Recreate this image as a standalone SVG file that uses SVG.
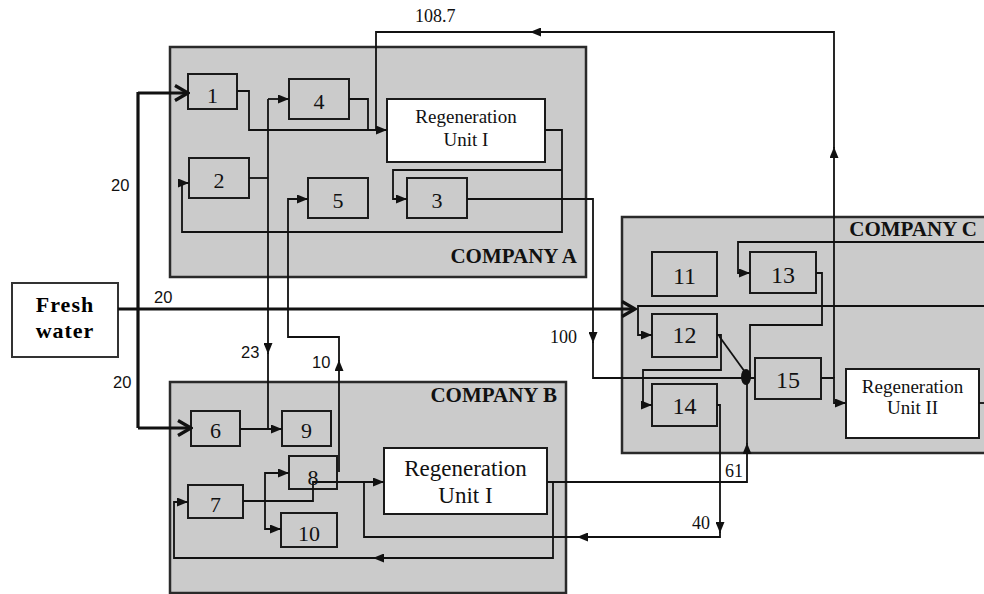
<svg xmlns="http://www.w3.org/2000/svg" width="984" height="594" viewBox="0 0 984 594">
<style>
.co{fill:#cbcbcb;stroke:#2a2a2a;stroke-width:2.5}
.nd{fill:#cbcbcb;stroke:#1a1a1a;stroke-width:2}
.rg{fill:#ffffff;stroke:#1a1a1a;stroke-width:2}
.num{font-family:"Liberation Serif",serif;font-size:22px;fill:#111;text-anchor:middle}
.numc{font-family:"Liberation Serif",serif;font-size:24px;fill:#111;text-anchor:middle}
.rt{font-family:"Liberation Serif",serif;fill:#111;text-anchor:middle}
.cl{font-family:"Liberation Serif",serif;font-weight:bold;font-size:21px;fill:#111;text-anchor:end}
.lbs{font-family:"Liberation Sans",sans-serif;font-size:16.5px;fill:#111}
.lbr{font-family:"Liberation Serif",serif;font-size:18px;fill:#111}
.c{fill:none;stroke:#111;stroke-width:1.8;marker-end:url(#a)}
.cn{fill:none;stroke:#111;stroke-width:1.8}
.t{fill:none;stroke:#111;stroke-width:3.2}
.to{fill:none;stroke:#111;stroke-width:3.2;marker-end:url(#o)}
</style>
<defs>
<marker id="a" markerUnits="userSpaceOnUse" markerWidth="11" markerHeight="9" refX="11" refY="4.5" orient="auto"><path d="M0,0 L11,4.5 L0,9 z" fill="#111"/></marker>
<marker id="o" markerUnits="userSpaceOnUse" markerWidth="16" markerHeight="18" refX="14" refY="9" orient="auto"><path d="M1,1.5 L14,9 L1,16.5" fill="none" stroke="#111" stroke-width="3.2"/></marker>
</defs>

<g id="companyA"><rect class="co" x="170" y="47" width="416" height="230"/><text class="cl" x="577" y="263">COMPANY A</text></g>
<g id="companyB"><rect class="co" x="170" y="382" width="396" height="211"/><text class="cl" x="557" y="402">COMPANY B</text></g>
<g id="companyC"><rect class="co" x="622" y="217" width="372" height="236"/><text class="cl" x="977" y="236">COMPANY C</text></g>

<g id="fresh"><rect x="12" y="283" width="106" height="74" fill="#fff" stroke="#333" stroke-width="2"/>
<text x="65" y="312" font-family="Liberation Serif,serif" font-weight="bold" font-size="22" text-anchor="middle" letter-spacing="1">Fresh</text>
<text x="65" y="338" font-family="Liberation Serif,serif" font-weight="bold" font-size="22" text-anchor="middle" letter-spacing="1">water</text></g>

<g id="n1"><rect class="nd" x="188" y="74" width="49" height="35"/><text class="num" x="212.5" y="103">1</text></g>
<g id="n2"><rect class="nd" x="189" y="158" width="60" height="40"/><text class="num" x="219" y="188">2</text></g>
<g id="n3"><rect class="nd" x="407" y="178" width="60" height="40"/><text class="num" x="437" y="208">3</text></g>
<g id="n4"><rect class="nd" x="289" y="79" width="60" height="40"/><text class="num" x="319" y="109">4</text></g>
<g id="n5"><rect class="nd" x="308" y="178" width="60" height="40"/><text class="num" x="338" y="208">5</text></g>
<g id="regA"><rect class="rg" x="387" y="99" width="158" height="63"/><text class="rt" font-size="19" x="466" y="123">Regeneration</text><text class="rt" font-size="19" x="466" y="146">Unit I</text></g>

<g id="n6"><rect class="nd" x="191" y="411" width="49" height="35"/><text class="num" x="215.5" y="438">6</text></g>
<g id="n9"><rect class="nd" x="282" y="411" width="49" height="35"/><text class="num" x="306.5" y="438">9</text></g>
<g id="n8"><rect class="nd" x="289" y="456" width="48" height="33"/><text class="num" x="313" y="485">8</text></g>
<g id="n7"><rect class="nd" x="188" y="485" width="55" height="33"/><text class="num" x="215.5" y="512">7</text></g>
<g id="n10"><rect class="nd" x="281" y="513" width="56" height="34"/><text class="num" x="309" y="541">10</text></g>
<g id="regB"><rect class="rg" x="384" y="448" width="163" height="66"/><text class="rt" font-size="23" x="465.5" y="476">Regeneration</text><text class="rt" font-size="23" x="465.5" y="503">Unit I</text></g>

<g id="n11"><rect class="nd" x="652" y="252" width="65" height="44"/><text class="numc" x="684.5" y="284">11</text></g>
<g id="n13"><rect class="nd" x="750" y="252" width="66" height="41"/><text class="numc" x="783" y="283">13</text></g>
<g id="n12"><rect class="nd" x="652" y="314" width="65" height="43"/><text class="numc" x="684.5" y="343">12</text></g>
<g id="n15"><rect class="nd" x="755" y="358" width="66" height="41"/><text class="numc" x="788" y="388">15</text></g>
<g id="n14"><rect class="nd" x="652" y="384" width="65" height="42"/><text class="numc" x="684.5" y="414">14</text></g>
<g id="regII"><rect class="rg" x="846" y="369" width="133" height="69"/><text class="rt" font-size="19" x="912.5" y="393">Regeneration</text><text class="rt" font-size="19" x="912.5" y="414">Unit II</text></g>

<g id="connectors">
<path class="to" d="M118,309 H635"/>
<path class="t" d="M138,309 V92"/>
<path class="to" d="M138,93 H188"/>
<path class="t" d="M138,309 V428"/>
<path class="to" d="M138,428 H191"/>

<path class="c" d="M237,91 H249 V130 H387"/>
<path class="cn" d="M349,99 H368 V130"/>
<path class="c" d="M834,378 V147"/>
<path class="c" d="M834,148 V32 H530"/>
<path class="cn" d="M531,32 H376 V130"/>
<path class="c" d="M821,378 H834 V403 H846"/>
<path class="cn" d="M979,403 H984"/>

<path class="cn" d="M249,178 H268"/>
<path class="c" d="M268,99 H289"/>
<path class="c" d="M268,99 V354"/>
<path class="cn" d="M268,353 V429"/>
<path class="c" d="M240,429 H282"/>

<path class="c" d="M545,130 H562 V232 H182 V183 H189"/>
<path class="c" d="M562,170 H393 V199 H407"/>

<path class="c" d="M467,199 H593 V343"/>
<path class="cn" d="M593,342 V378 H755"/>

<path class="c" d="M339,472 V360"/>
<path class="c" d="M339,361 V337 H288 V199 H308"/>

<path class="c" d="M243,501 H313 V482 H384"/>
<path class="c" d="M265,501 V473 H289"/>
<path class="c" d="M265,501 V529 H281"/>

<path class="c" d="M717,405 H720 V533"/>
<path class="c" d="M720,532 V537 H577"/>
<path class="cn" d="M578,537 H364 V482"/>

<path class="c" d="M547,482 H747 V443"/>
<path class="cn" d="M747,444 V378"/>
<path class="c" d="M553,482 V558 H373"/>
<path class="c" d="M374,558 H174 V502 H188"/>

<path class="cn" d="M816,273 H822 V325 H750 V378"/>
<path class="c" d="M717,335 H721 V370 H643 V405 H652"/>
<path class="cn" d="M719,336 L745,372"/>
<path class="c" d="M984,306 H638 V335 H652"/>
<path class="c" d="M984,242 H738 V273 H750"/>
<ellipse cx="746" cy="377" rx="5" ry="8" fill="#111"/>
</g>

<g id="labels">
<text class="lbr" x="415" y="22" font-size="19">108.7</text>
<text class="lbs" x="111" y="191">20</text>
<text class="lbs" x="154" y="303">20</text>
<text class="lbs" x="113" y="388">20</text>
<text class="lbs" x="241" y="358">23</text>
<text class="lbs" x="312" y="368">10</text>
<text class="lbr" x="550" y="343">100</text>
<text class="lbr" x="725" y="477">61</text>
<text class="lbr" x="692" y="529">40</text>
</g>
</svg>
